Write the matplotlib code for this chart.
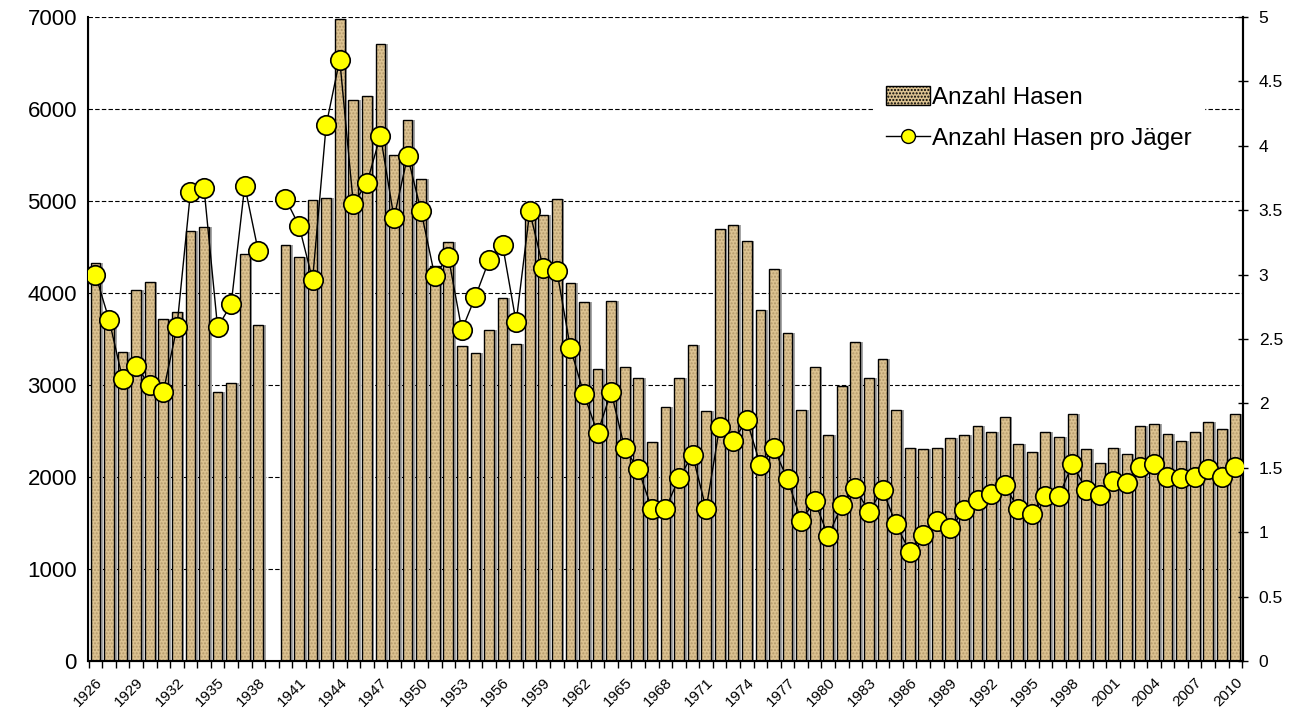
import numpy as np
import matplotlib
matplotlib.use("Agg")
import matplotlib.pyplot as plt
from matplotlib.patches import Patch
from matplotlib.lines import Line2D

plt.rcParams['font.family'] = ['Liberation Sans', 'DejaVu Sans']

years = list(range(1926, 2011))

# Anzahl Hasen (None = no data)
hasen = [4330, 3700, 3360, 4030, 4125, 3713, 3793, 4669, 4714, 2922,
         3026, 4420, 3654, None, 4525, 4390, 5007, 5037, 6974, 6098,
         6137, 6710, 5505, 5884, 5236, 4296, 4555, 3420, 3350, 3599,
         3947, 3450, 4803, 4843, 5017, 4112, 3902, 3171, 3917, 3191,
         3081, 2379, 2763, 3081, 3440, 2718, 4699, 4744, 4569, 3818,
         4256, 3564, 2733, 3201, 2454, 2992, 3464, 3081, 3285, 2728,
         2320, 2305, 2320, 2419, 2454, 2553, 2484, 2653, 2364, 2275,
         2494, 2434, 2688, 2305, 2155, 2320, 2245, 2553, 2578, 2464,
         2394, 2494, 2603, 2519, 2688]

# Anzahl Hasen pro Jaeger
pro_jaeger = [3.00, 2.65, 2.19, 2.29, 2.14, 2.09, 2.59, 3.64, 3.67, 2.59,
              2.77, 3.69, 3.18, None, 3.59, 3.38, 2.96, 4.16, 4.67, 3.55,
              3.71, 4.08, 3.44, 3.92, 3.49, 2.99, 3.14, 2.57, 2.83, 3.11,
              3.23, 2.63, 3.49, 3.05, 3.03, 2.43, 2.07, 1.77, 2.09, 1.65,
              1.49, 1.18, 1.18, 1.42, 1.60, 1.18, 1.82, 1.71, 1.87, 1.52,
              1.65, 1.41, 1.09, 1.24, 0.97, 1.21, 1.34, 1.16, 1.33, 1.06,
              0.85, 0.98, 1.09, 1.03, 1.17, 1.25, 1.30, 1.37, 1.18, 1.14,
              1.28, 1.28, 1.53, 1.33, 1.29, 1.40, 1.38, 1.51, 1.53, 1.43,
              1.42, 1.43, 1.49, 1.43, 1.51]

x = np.arange(len(years))
h = np.array([np.nan if v is None else v for v in hasen], dtype=float)
r = np.array([np.nan if v is None else v for v in pro_jaeger], dtype=float)

fig = plt.figure(figsize=(13, 7.18), dpi=100)
ax = fig.add_axes([0.0677, 0.0794, 0.8883, 0.8969])

# gridlines
for g in range(1000, 8000, 1000):
    ax.axhline(g, color='black', lw=0.8, ls=(0, (4, 2)), zorder=0)

w = 0.72
tan = '#dcc291'
ok = ~np.isnan(h)
# shadow
ax.bar(x[ok] + 0.2, h[ok], width=w, color='#a6a6a6', lw=0, zorder=1)
# fill with dotted texture
ax.bar(x[ok], h[ok], width=w, color=tan, hatch='.....',
       edgecolor='#b49a6c', lw=0, zorder=2)
ax.bar(x[ok], h[ok], width=w, fill=False, edgecolor='black', lw=1, zorder=3)

ax.set_xlim(-0.55, len(years) - 0.45)
ax.set_ylim(0, 7000)
ax.set_yticks(range(0, 8000, 1000))
ax.tick_params(axis='y', labelsize=16, length=0, pad=8)

# tick marks between categories, labels every third year
ax.set_xticks(np.arange(-0.5, len(years), 1))
ax.set_xticklabels([])
ax.set_xticks(x, minor=True)
ax.set_xticklabels([str(y) if (y - 1926) % 3 == 0 else '' for y in years],
                   minor=True, rotation=45, ha='right',
                   rotation_mode='anchor', fontsize=11)
ax.tick_params(axis='x', which='major', length=5, width=1)
ax.tick_params(axis='x', which='minor', length=0, pad=10)
ax.spines['top'].set_visible(False)
for s in ['left', 'bottom', 'right']:
    ax.spines[s].set_linewidth(1.5)

ax2 = ax.twinx()
ax2.plot(x, r, color='black', lw=1, marker='o', markersize=14,
         markerfacecolor='#ffff00', markeredgecolor='black',
         markeredgewidth=1.2, zorder=5)
ax2.set_ylim(0, 5)
ax2.set_yticks(np.arange(0, 5.01, 0.5))
ax2.set_yticklabels(['0', '0.5', '1', '1.5', '2', '2.5', '3', '3.5', '4',
                     '4.5', '5'])
ax2.tick_params(axis='y', labelsize=12.5, length=7, width=1,
                direction='inout', pad=8)
ax2.spines['top'].set_visible(False)
ax2.spines['right'].set_linewidth(1.5)

handles = [Patch(facecolor=tan, edgecolor='black', hatch='.....', lw=1),
           Line2D([], [], color='black', lw=1, marker='o', markersize=10,
                  markerfacecolor='#ffff00', markeredgecolor='black')]
labels = ['Anzahl Hasen', 'Anzahl Hasen pro Jäger']
leg = ax2.legend(handles, labels, loc='upper left',
                 bbox_to_anchor=(0.67, 0.93), fontsize=17.5, frameon=True,
                 handlelength=1.8, handleheight=0.8, handletextpad=0.1,
                 borderpad=0.5, labelspacing=0.75, fancybox=False)
leg.get_frame().set_edgecolor('white')
leg.get_frame().set_facecolor('white')
leg.get_frame().set_alpha(1)

fig.savefig('out.png', dpi=100)
